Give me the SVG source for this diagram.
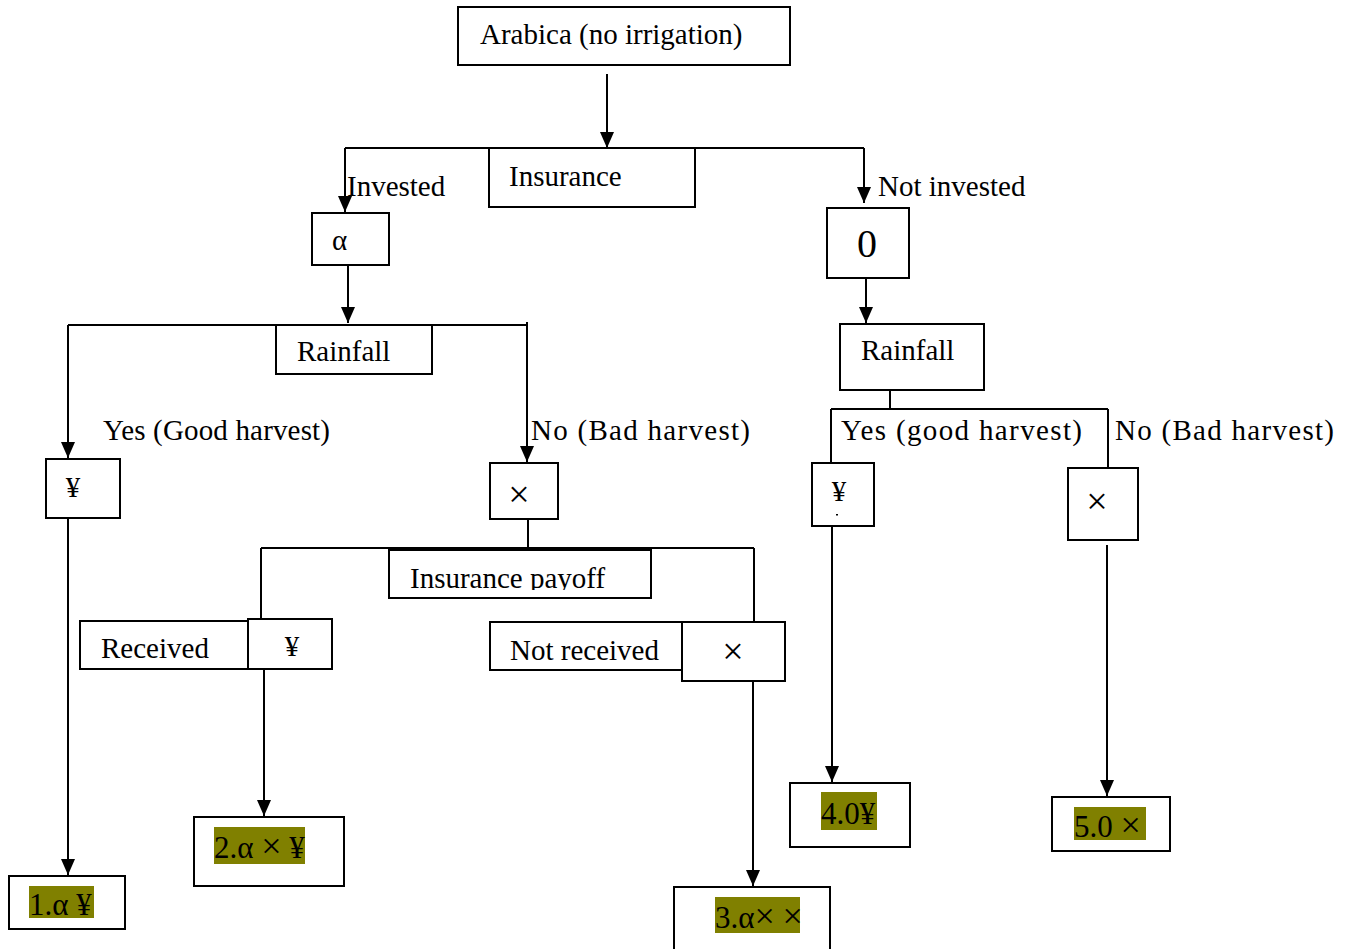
<svg xmlns="http://www.w3.org/2000/svg" width="1348" height="949" viewBox="0 0 1348 949">
  <style>
    .box { fill: #fff; stroke: #000; stroke-width: 2; }
    .ln { fill: none; stroke: #000; stroke-width: 2; }
    .arr { fill: none; stroke: #000; stroke-width: 2; marker-end: url(#ah); }
    .t { font-family: "Liberation Serif", "Times New Roman", serif; font-size: 29px; fill: #000; }
    .o { font-size: 31px; }
    .x { font-size: 38px; }
    .ox { font-size: 36px; }
    .hl { fill: #808000; }
  </style>
  <defs>
    <marker id="ah" viewBox="0 0 16 14" refX="16" refY="7" markerWidth="16" markerHeight="14" markerUnits="userSpaceOnUse" orient="auto">
      <path d="M0,0 L16,7 L0,14 Z" fill="#000"/>
    </marker>
    <clipPath id="payoffClip"><rect x="390" y="551" width="260" height="39"/></clipPath>
  </defs>
  <rect width="1348" height="949" fill="#fff"/>

  <!-- connectors -->
  <g id="connectors">
    <path class="arr" d="M607,74 V148"/>
    <path class="ln" d="M345,148 H864"/>
    <path class="arr" d="M345,148 V212"/>
    <path class="arr" d="M864,148 V203"/>
    <path class="arr" d="M348,265 V323"/>
    <path class="ln" d="M68,325 H527"/>
    <path class="arr" d="M68,325 V458"/>
    <path class="arr" d="M527,322 V462"/>
    <path class="arr" d="M866,278 V323"/>
    <path class="ln" d="M890,390 V409 M831,409 H1108 M831,409 V463 M1108,409 V468"/>
    <path class="ln" d="M528,519 V548 M261,548 H754 M261,548 V620 M754,548 V622"/>
    <path class="arr" d="M68,518 V875"/>
    <path class="arr" d="M264,669 V816"/>
    <path class="arr" d="M753,681 V886"/>
    <path class="arr" d="M832,526 V782"/>
    <path class="arr" d="M1107,545 V796"/>
  </g>

  <g id="root">
    <rect class="box" x="458" y="7" width="332" height="58"/>
    <text class="t" x="480" y="44">Arabica (no irrigation)</text>
  </g>
  <g id="insurance">
    <rect class="box" x="489" y="148" width="206" height="59"/>
    <text class="t" x="509" y="186">Insurance</text>
  </g>
  <g id="label-invested"><text class="t" x="347" y="196">Invested</text></g>
  <g id="label-not-invested"><text class="t" x="878" y="196">Not invested</text></g>

  <g id="alpha">
    <rect class="box" x="312" y="213" width="77" height="52"/>
    <text class="t" x="332" y="250">α</text>
  </g>
  <g id="zero">
    <rect class="box" x="827" y="208" width="82" height="70"/>
    <text class="t" x="857" y="257" style="font-size:40px">0</text>
  </g>

  <g id="rainfall-left">
    <rect class="box" x="276" y="325" width="156" height="49"/>
    <text class="t" x="297" y="361">Rainfall</text>
  </g>
  <g id="rainfall-right">
    <rect class="box" x="840" y="324" width="144" height="66"/>
    <text class="t" x="861" y="360">Rainfall</text>
  </g>

  <g id="labels-harvest">
    <text class="t" x="103" y="440" textLength="227" lengthAdjust="spacing">Yes (Good harvest)</text>
    <text class="t" x="531" y="440" textLength="219" lengthAdjust="spacing">No (Bad harvest)</text>
    <text class="t" x="841" y="440" textLength="241" lengthAdjust="spacing">Yes (good harvest)</text>
    <text class="t" x="1115" y="440" textLength="219" lengthAdjust="spacing">No (Bad harvest)</text>
  </g>

  <g id="yen-left">
    <rect class="box" x="46" y="459" width="74" height="59"/>
    <text class="t" x="73" y="497" text-anchor="middle">¥</text>
  </g>
  <g id="times-left">
    <rect class="box" x="490" y="463" width="68" height="56"/>
    <text class="t x" x="519" y="507" text-anchor="middle">×</text>
  </g>
  <g id="yen-right">
    <rect class="box" x="812" y="463" width="62" height="63"/>
    <text class="t" x="839" y="501" text-anchor="middle">¥</text>
    <rect x="836" y="514" width="2" height="1.5" fill="#000"/>
  </g>
  <g id="times-right">
    <rect class="box" x="1068" y="468" width="70" height="72"/>
    <text class="t x" x="1097" y="514" text-anchor="middle">×</text>
  </g>

  <g id="payoff">
    <rect class="box" x="389" y="550" width="262" height="48"/>
    <text class="t" x="410" y="588" clip-path="url(#payoffClip)">Insurance payoff</text>
  </g>

  <g id="received">
    <rect class="box" x="80" y="621" width="168" height="48"/>
    <text class="t" x="101" y="658">Received</text>
  </g>
  <g id="received-yen">
    <rect class="box" x="248" y="619" width="84" height="50"/>
    <text class="t" x="292" y="656" text-anchor="middle">¥</text>
  </g>
  <g id="not-received">
    <rect class="box" x="490" y="622" width="192" height="48"/>
    <text class="t" x="510" y="660">Not received</text>
  </g>
  <g id="not-received-times">
    <rect class="box" x="682" y="622" width="103" height="59"/>
    <text class="t x" x="733" y="664" text-anchor="middle">×</text>
  </g>

  <g id="outcome-1">
    <rect class="box" x="9" y="876" width="116" height="53"/>
    <rect class="hl" x="29" y="886" width="65" height="32"/>
    <text class="t o" x="29" y="915">1.α ¥</text>
  </g>
  <g id="outcome-2">
    <rect class="box" x="194" y="817" width="150" height="69"/>
    <rect class="hl" x="214" y="827" width="91" height="37"/>
    <text class="t o" x="214" y="858">2.α <tspan class="ox">×</tspan> ¥</text>
  </g>
  <g id="outcome-3">
    <rect class="box" x="674" y="887" width="156" height="70"/>
    <rect class="hl" x="715" y="897" width="85" height="36"/>
    <text class="t o" x="715" y="928">3.α<tspan class="ox">×</tspan> <tspan class="ox">×</tspan></text>
  </g>
  <g id="outcome-4">
    <rect class="box" x="790" y="783" width="120" height="64"/>
    <rect class="hl" x="821" y="792" width="56" height="38"/>
    <text class="t o" x="821" y="824">4.0¥</text>
  </g>
  <g id="outcome-5">
    <rect class="box" x="1052" y="797" width="118" height="54"/>
    <rect class="hl" x="1074" y="807" width="72" height="33"/>
    <text class="t o" x="1074" y="837">5.0 <tspan class="ox">×</tspan></text>
  </g>
</svg>
